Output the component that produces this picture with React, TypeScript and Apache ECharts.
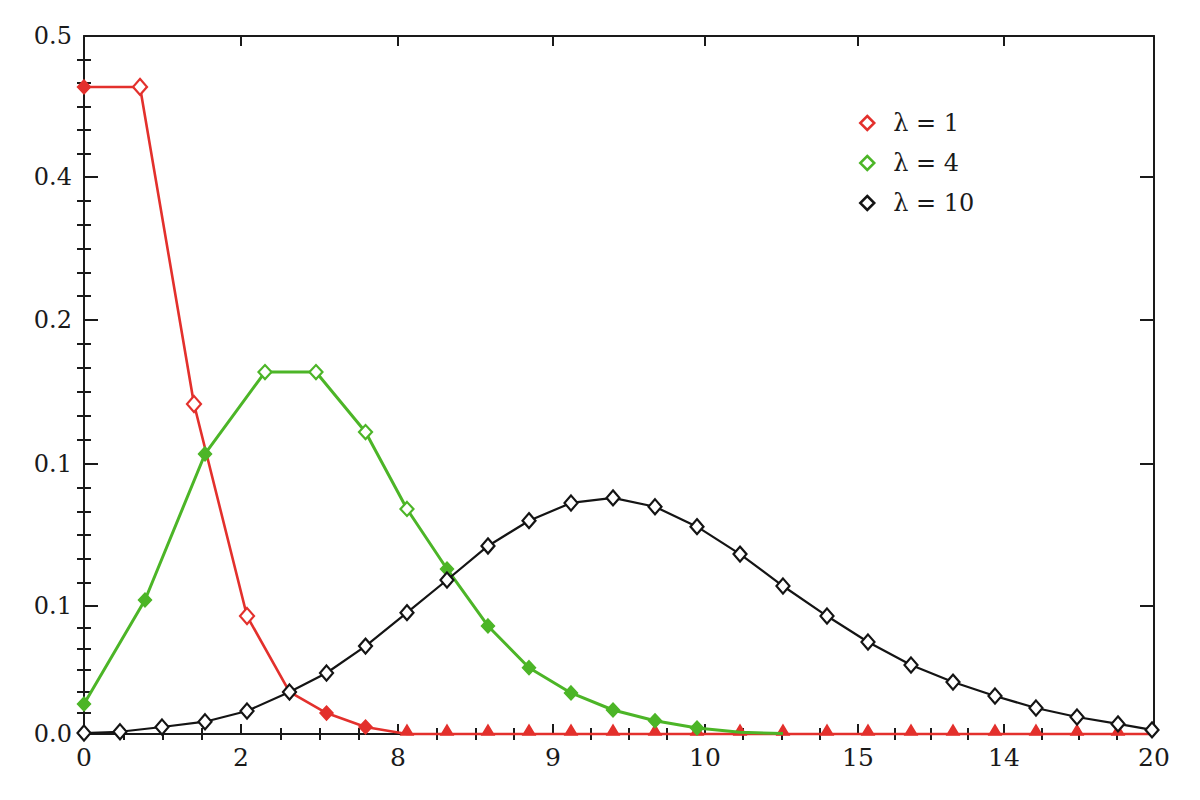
import React, { useEffect, useRef } from "react";
import * as echarts from "echarts";

// ---- tick positions / labels (as printed in the reference) ----
const xMajorTicks = [0, 2.935, 5.869, 8.766, 11.607, 14.467, 17.196, 20];
const xTickLabels = ["0", "2", "8", "9", "10", "15", "14", "20"];
const yMajorTicks = [0, 0.0917, 0.1934, 0.2966, 0.399, 0.5];
const yTickLabels = ["0.0", "0.1", "0.1", "0.2", "0.4", "0.5"];

// ---- series: lambda = 1 (red) ----
const redX = [0, 1.047, 2.056, 3.047, 3.841, 4.533, 5.262, 6.037, 6.785, 7.551, 8.318, 9.103, 9.888, 10.673, 11.458, 12.262, 13.065, 13.888, 14.654, 15.458, 16.243, 17.028, 17.794, 18.561, 19.327, 20];
const redY = [0.4635, 0.4635, 0.2364, 0.0845, 0.0301, 0.015, 0.005, 0, 0, 0, 0, 0, 0, 0, 0, 0, 0, 0, 0, 0, 0, 0, 0, 0, 0, 0];

// ---- series: lambda = 4 (green) ----
const greenX = [0, 1.14, 2.262, 3.383, 4.336, 5.262, 6.037, 6.785, 7.551, 8.318, 9.103, 9.888, 10.673, 11.458, 12.262, 13.065];
const greenY = [0.0215, 0.096, 0.2006, 0.2593, 0.2593, 0.2163, 0.1612, 0.1182, 0.0774, 0.0475, 0.0294, 0.0172, 0.0095, 0.0043, 0.0012, 0.0003];

// ---- series: lambda = 10 (black) ----
const blackX = [0, 0.673, 1.458, 2.262, 3.047, 3.841, 4.533, 5.262, 6.037, 6.785, 7.551, 8.318, 9.103, 9.888, 10.673, 11.458, 12.262, 13.065, 13.888, 14.654, 15.458, 16.243, 17.028, 17.794, 18.561, 19.327, 19.963];
const blackY = [0.0007, 0.0016, 0.005, 0.0088, 0.0165, 0.0301, 0.0437, 0.063, 0.0869, 0.1103, 0.1347, 0.1528, 0.1655, 0.1691, 0.1628, 0.1485, 0.1289, 0.106, 0.0845, 0.0659, 0.0494, 0.0372, 0.0272, 0.0186, 0.0122, 0.0072, 0.0029];

const seriesNames = ["λ = 1", "λ = 4", "λ = 10"];

const RED = "#e3302c";
const GREEN = "#4cb527";
const BLACK = "#141414";
const INK = "#1a1a1a";
const FONT = "DejaVu Serif";

function subdivide(major: number[], n: number): number[] {
  const out: number[] = [];
  for (let i = 0; i < major.length - 1; i++) {
    const a = major[i];
    const b = major[i + 1];
    for (let k = 1; k < n; k++) out.push(a + ((b - a) * k) / n);
  }
  return out;
}

function labelFor(values: number[], labels: string[]) {
  return (v: number) => {
    const idx = values.findIndex((t) => Math.abs(t - v) < 1e-6);
    return idx >= 0 ? labels[idx] : "";
  };
}

export default function App() {
  const ref = useRef<HTMLDivElement>(null);

  useEffect(() => {
    if (!ref.current) return;
    const chart = echarts.init(ref.current, undefined, { renderer: "svg" });

    const xMinor = subdivide(xMajorTicks, 4);
    const yMinor = subdivide(yMajorTicks, 6);

    const axisLine = { show: true, onZero: false, lineStyle: { color: INK, width: 2 } };

    const xBase = { type: "value", min: 0, max: 20, splitLine: { show: false } };
    const yBase = { type: "value", min: 0, max: 0.5, splitLine: { show: false } };

    const xAxes = [
      {
        ...xBase,
        position: "bottom",
        axisLine,
        axisTick: { show: true, inside: true, length: 10, customValues: xMajorTicks, lineStyle: { color: INK, width: 2 } },
        axisLabel: {
          show: true,
          customValues: xMajorTicks,
          formatter: labelFor(xMajorTicks, xTickLabels),
          margin: 11,
          color: INK,
          fontSize: 25,
          fontFamily: FONT,
        },
      },
      {
        ...xBase,
        position: "bottom",
        axisLine: { show: false },
        axisLabel: { show: false },
        axisTick: { show: true, inside: true, length: 6, customValues: xMinor, lineStyle: { color: INK, width: 2 } },
      },
      {
        ...xBase,
        position: "top",
        axisLine,
        axisLabel: { show: false },
        axisTick: { show: true, inside: true, length: 10, customValues: xMajorTicks, lineStyle: { color: INK, width: 2 } },
      },
      {
        ...xBase,
        position: "top",
        axisLine: { show: false },
        axisLabel: { show: false },
        axisTick: { show: true, inside: true, length: 6, customValues: xMinor, lineStyle: { color: INK, width: 2 } },
      },
    ];

    const yAxes = [
      {
        ...yBase,
        position: "left",
        axisLine,
        axisTick: { show: true, inside: true, length: 14, customValues: yMajorTicks, lineStyle: { color: INK, width: 2 } },
        axisLabel: {
          show: true,
          customValues: yMajorTicks,
          formatter: labelFor(yMajorTicks, yTickLabels),
          margin: 12,
          color: INK,
          fontSize: 24,
          fontFamily: FONT,
        },
      },
      {
        ...yBase,
        position: "left",
        axisLine: { show: false },
        axisLabel: { show: false },
        axisTick: { show: true, inside: true, length: 7, customValues: yMinor, lineStyle: { color: INK, width: 2 } },
      },
      {
        ...yBase,
        position: "right",
        axisLine,
        axisLabel: { show: false },
        axisTick: { show: true, inside: true, length: 14, customValues: yMajorTicks, lineStyle: { color: INK, width: 2 } },
      },
      {
        ...yBase,
        position: "right",
        axisLine: { show: false },
        axisLabel: { show: false },
        axisTick: { show: true, inside: true, length: 7, customValues: yMinor, lineStyle: { color: INK, width: 2 } },
      },
    ];

    const filled = (c: string) => ({ color: c, borderColor: c, borderWidth: 1.5 });
    const hollow = (c: string) => ({ color: "#ffffff", borderColor: c, borderWidth: 2.2 });

    const redData = redX.map((x, i) => {
      const y = redY[i];
      if (i === redX.length - 1) return { value: [x, y], symbol: "none" };
      if (y === 0) {
        return { value: [x, y], symbol: "triangle", symbolSize: [12, 10], symbolOffset: [0, -4], itemStyle: filled(RED) };
      }
      const isHollow = i >= 1 && i <= 3;
      return {
        value: [x, y],
        symbol: "diamond",
        symbolSize: isHollow ? [14, 16] : [13, 14],
        itemStyle: isHollow ? hollow(RED) : filled(RED),
      };
    });

    const greenData = greenX.map((x, i) => {
      const y = greenY[i];
      if (i >= 14) return { value: [x, y], symbol: "none" };
      const isHollow = i >= 3 && i <= 6;
      return {
        value: [x, y],
        symbol: "diamond",
        symbolSize: [13, 14],
        itemStyle: isHollow ? hollow(GREEN) : filled(GREEN),
      };
    });

    const blackData = blackX.map((x, i) => ({
      value: [x, blackY[i]],
      symbol: "diamond",
      symbolSize: [13, 15],
      itemStyle: hollow(BLACK),
    }));

    const mkSeries = (name: string, data: any[], color: string, width: number, z: number) => ({
      type: "line",
      name,
      data,
      xAxisIndex: 0,
      yAxisIndex: 0,
      clip: false,
      showSymbol: true,
      showAllSymbol: true,
      smooth: false,
      z,
      lineStyle: { color, width },
      itemStyle: { color },
      emphasis: { disabled: true },
    });

    chart.setOption({
      animation: false,
      backgroundColor: "#ffffff",
      grid: { left: 84, top: 36, right: 46, bottom: 66, containLabel: false },
      xAxis: xAxes,
      yAxis: yAxes,
      legend: {
        show: true,
        orient: "vertical",
        left: 859,
        top: 111,
        itemWidth: 14,
        itemHeight: 14,
        itemGap: 16,
        padding: 0,
        textStyle: { fontSize: 24, fontFamily: FONT, color: INK, lineHeight: 24, padding: [0, 0, 0, 14] },
        data: [
          { name: seriesNames[0], icon: "diamond", itemStyle: { color: "#fff", borderColor: RED, borderWidth: 2.5 } },
          { name: seriesNames[1], icon: "diamond", itemStyle: { color: "#fff", borderColor: GREEN, borderWidth: 2.5 } },
          { name: seriesNames[2], icon: "diamond", itemStyle: { color: "#fff", borderColor: BLACK, borderWidth: 2.5 } },
        ],
      },
      series: [
        mkSeries(seriesNames[0], redData, RED, 2.6, 3),
        mkSeries(seriesNames[1], greenData, GREEN, 3, 4),
        mkSeries(seriesNames[2], blackData, BLACK, 2.2, 5),
      ],
    });

    return () => chart.dispose();
  }, []);

  return (
    <div
      ref={ref}
      style={{ position: "absolute", left: 0, top: 0, width: 1200, height: 800, background: "#fff" }}
    />
  );
}
